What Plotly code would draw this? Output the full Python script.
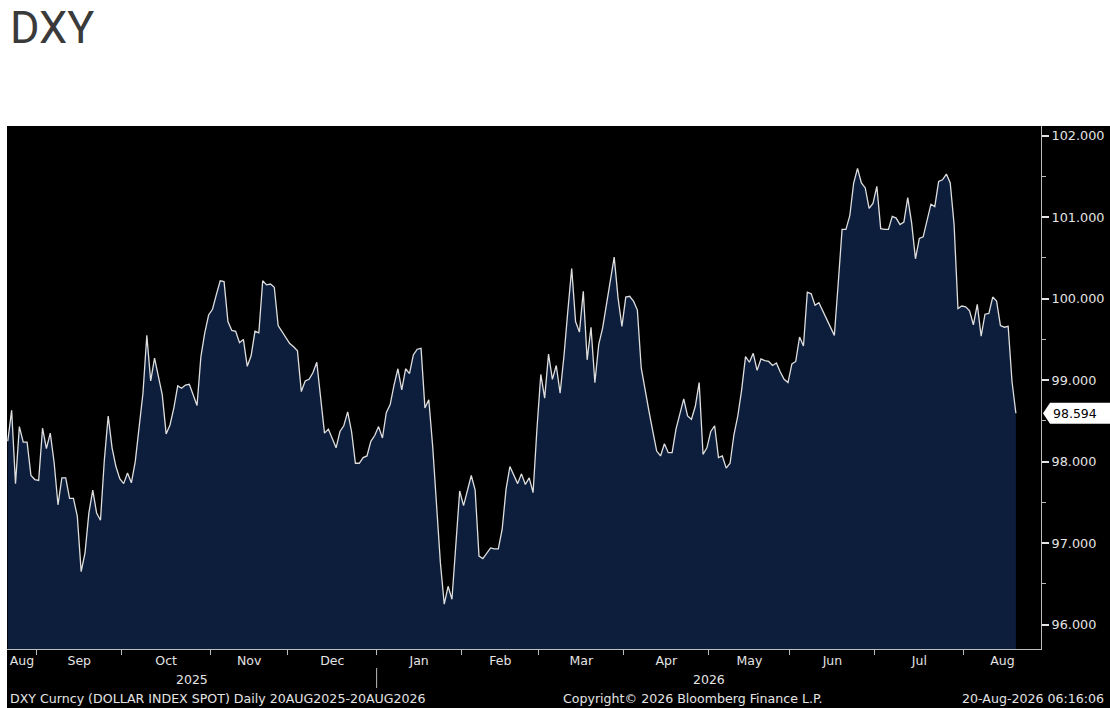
import pandas as pd
import plotly.graph_objects as go

# DXY daily close, one value per weekday, 20 Aug 2025 - 20 Aug 2026
dates = pd.bdate_range("2025-08-20", "2026-08-20")
dxy_close = [
    98.25, 98.63, 97.73, 98.43, 98.24, 98.24, 97.83, 97.78, 97.77, 98.41,
    98.16, 98.35, 97.99, 97.47, 97.80, 97.80, 97.55, 97.55, 97.33, 96.65,
    96.88, 97.37, 97.65, 97.37, 97.28, 98.02, 98.56, 98.17, 97.94, 97.79,
    97.73, 97.86, 97.74, 98.00, 98.42, 98.84, 99.55, 98.99, 99.27, 99.05,
    98.82, 98.34, 98.45, 98.66, 98.93, 98.90, 98.94, 98.95, 98.81, 98.69,
    99.29, 99.58, 99.80, 99.87, 100.05, 100.22, 100.21, 99.72, 99.61, 99.60,
    99.46, 99.50, 99.17, 99.30, 99.60, 99.58, 100.22, 100.17, 100.18, 100.14,
    99.67, 99.60, 99.52, 99.45, 99.41, 99.36, 98.86, 98.99, 99.01, 99.09,
    99.22, 98.80, 98.35, 98.40, 98.29, 98.17, 98.37, 98.44, 98.61, 98.37,
    97.98, 97.98, 98.05, 98.07, 98.25, 98.32, 98.43, 98.29, 98.60, 98.70,
    98.94, 99.14, 98.88, 99.14, 99.08, 99.31, 99.38, 99.39, 98.66, 98.76,
    98.19, 97.45, 96.76, 96.25, 96.47, 96.31, 96.96, 97.64, 97.46, 97.66,
    97.83, 97.65, 96.84, 96.81, 96.87, 96.94, 96.93, 96.93, 97.17, 97.66,
    97.94, 97.84, 97.73, 97.85, 97.72, 97.80, 97.62, 98.40, 99.07, 98.78,
    99.32, 99.01, 99.18, 98.84, 99.30, 99.85, 100.37, 99.72, 99.59, 100.09,
    99.25, 99.65, 98.97, 99.44, 99.64, 99.93, 100.20, 100.51, 100.01, 99.66,
    100.02, 100.03, 99.97, 99.86, 99.15, 98.86, 98.62, 98.37, 98.13, 98.07,
    98.22, 98.11, 98.11, 98.40, 98.60, 98.77, 98.56, 98.52, 98.68, 98.97,
    98.09, 98.17, 98.37, 98.44, 98.05, 98.07, 97.92, 97.98, 98.33, 98.56,
    98.88, 99.29, 99.22, 99.33, 99.12, 99.26, 99.24, 99.23, 99.18, 99.21,
    99.10, 99.01, 98.97, 99.20, 99.23, 99.53, 99.42, 100.08, 100.06, 99.92,
    99.95, 99.85, 99.74, 99.63, 99.55, 100.19, 100.85, 100.85, 101.02, 101.42,
    101.60, 101.42, 101.36, 101.11, 101.17, 101.38, 100.86, 100.85, 100.85, 101.01,
    100.99, 100.91, 100.94, 101.24, 100.93, 100.49, 100.74, 100.76, 100.95, 101.16,
    101.13, 101.44, 101.46, 101.53, 101.42, 100.91, 99.88, 99.91, 99.90, 99.85,
    99.68, 99.93, 99.54, 99.81, 99.82, 100.02, 99.97, 99.67, 99.65, 99.66,
    98.98, 98.594,
]
assert len(dates) == len(dxy_close)

title_text = "DXY"
footer_left = "DXY Curncy (DOLLAR INDEX SPOT) Daily 20AUG2025-20AUG2026"
footer_mid = "Copyright\u00a9 2026 Bloomberg Finance L.P."
footer_right = "20-Aug-2026 06:16:06"

W, H = 1110, 708
ML, MR, MT, MB = 7, 69, 126, 59
PW, PH = W - ML - MR, H - MT - MB
x_lo, x_hi = -0.2, 267.5
y_lo, y_hi = 95.70, 102.12

FG = "#e4e4e4"
AXC = "#bdbdbd"
FONT = "DejaVu Sans"

idx = list(range(len(dates)))


def periods(keys):
    # boundaries (half a day before the first day of each period) and label centres
    starts = [i for i in range(1, len(keys)) if keys[i] != keys[i - 1]]
    bounds = [i - 0.5 for i in starts]
    edges = [x_lo] + bounds + [x_hi]
    first = [0] + starts
    centres = [(edges[k] + edges[k + 1]) / 2 for k in range(len(edges) - 1)]
    return bounds, centres, first


m_bounds, m_centres, m_first = periods([(d.year, d.month) for d in dates])
m_text = [dates[i].strftime("%b") for i in m_first]
y_bounds, y_centres, y_first = periods([d.year for d in dates])
y_text = [str(dates[i].year) for i in y_first]

fig = go.Figure()
fig.add_trace(go.Scatter(
    x=idx, y=dxy_close, mode="lines",
    line=dict(color="#dedede", width=1.3),
    fill="tozeroy", fillcolor="#0c1e3b",
    customdata=[d.strftime("%d %b %Y") for d in dates],
    hovertemplate="%{customdata}: %{y:.3f}<extra></extra>",
))

# black backdrop behind the plot and the axis area
fig.add_shape(type="rect", xref="paper", yref="paper", layer="below",
              x0=0, x1=(W - ML) / PW, y0=-MB / PH, y1=1,
              fillcolor="black", line=dict(width=0))

# last value callout
y_last = dxy_close[-1]
h = 10.5 / (PH / (y_hi - y_lo))
tip, bl, br = 1 + 2 / PW, 1 + 9 / PW, (W - ML) / PW
fig.add_shape(type="path", xref="paper", yref="y",
              path=f"M {tip},{y_last} L {bl},{y_last + h} L {br},{y_last + h} "
                   f"L {br},{y_last - h} L {bl},{y_last - h} Z",
              fillcolor="white", line=dict(width=0))
fig.add_annotation(x=1 + 10 / PW, y=y_last, xref="paper", yref="y",
                   text=f"{y_last:.3f}", showarrow=False, xanchor="left",
                   font=dict(family=FONT, size=12.5, color="black"))

# year separators and labels
for b in y_bounds:
    fig.add_shape(type="line", xref="x", yref="paper", x0=b, x1=b,
                  y0=-(668 - (MT + PH)) / PH, y1=-(688 - (MT + PH)) / PH,
                  line=dict(color=AXC, width=1))
for c, t in zip(y_centres, y_text):
    fig.add_annotation(x=c, y=-(679 - (MT + PH)) / PH, xref="x", yref="paper",
                       text=t, showarrow=False, yanchor="middle",
                       font=dict(family=FONT, size=12.5, color=FG))

# footer
for xpx, t, anc in [(8, footer_left, "left"), (693, footer_mid, "center"),
                    (1106, footer_right, "right")]:
    fig.add_annotation(x=(xpx - ML) / PW, y=-(698 - (MT + PH)) / PH,
                       xref="paper", yref="paper", text=t, showarrow=False,
                       xanchor=anc, yanchor="middle",
                       font=dict(family=FONT, size=12.6, color=FG))

# title
fig.add_annotation(x=(8 - ML) / PW, y=1 + (MT - 28) / PH, xref="paper", yref="paper",
                   text=title_text, showarrow=False, xanchor="left", yanchor="middle",
                   font=dict(family="Roboto", size=45, color="#3a3a3a"))

fig.update_layout(
    width=W, height=H,
    margin=dict(l=ML, r=MR, t=MT, b=MB, pad=0),
    paper_bgcolor="white", plot_bgcolor="black",
    showlegend=False,
    font=dict(family=FONT, size=12, color=FG),
    xaxis=dict(
        range=[x_lo, x_hi], showgrid=False, zeroline=False,
        showline=True, linecolor=AXC, linewidth=1,
        tickmode="array", tickvals=m_centres, ticktext=m_text,
        ticks="", tickfont=dict(family=FONT, size=12.5, color=FG),
        minor=dict(tickmode="array", tickvals=m_bounds, ticks="outside",
                   ticklen=5, tickcolor=AXC, tickwidth=1, showgrid=False),
    ),
    yaxis=dict(
        range=[y_lo, y_hi], side="right", showgrid=False, zeroline=False,
        showline=True, linecolor=AXC, linewidth=1,
        tick0=96, dtick=1, tickformat=".3f",
        ticks="outside", ticklen=7, tickwidth=2, tickcolor=FG,
        tickfont=dict(family=FONT, size=12.8, color=FG),
        minor=dict(tick0=95.5, dtick=1, ticks="outside", ticklen=4,
                   tickcolor=AXC, tickwidth=1, showgrid=False),
    ),
)

# the page's default body margin would shift the figure by 8px
fig.write_html("out.html", config={"displayModeBar": False},
               post_script="document.body.style.margin='0';")
